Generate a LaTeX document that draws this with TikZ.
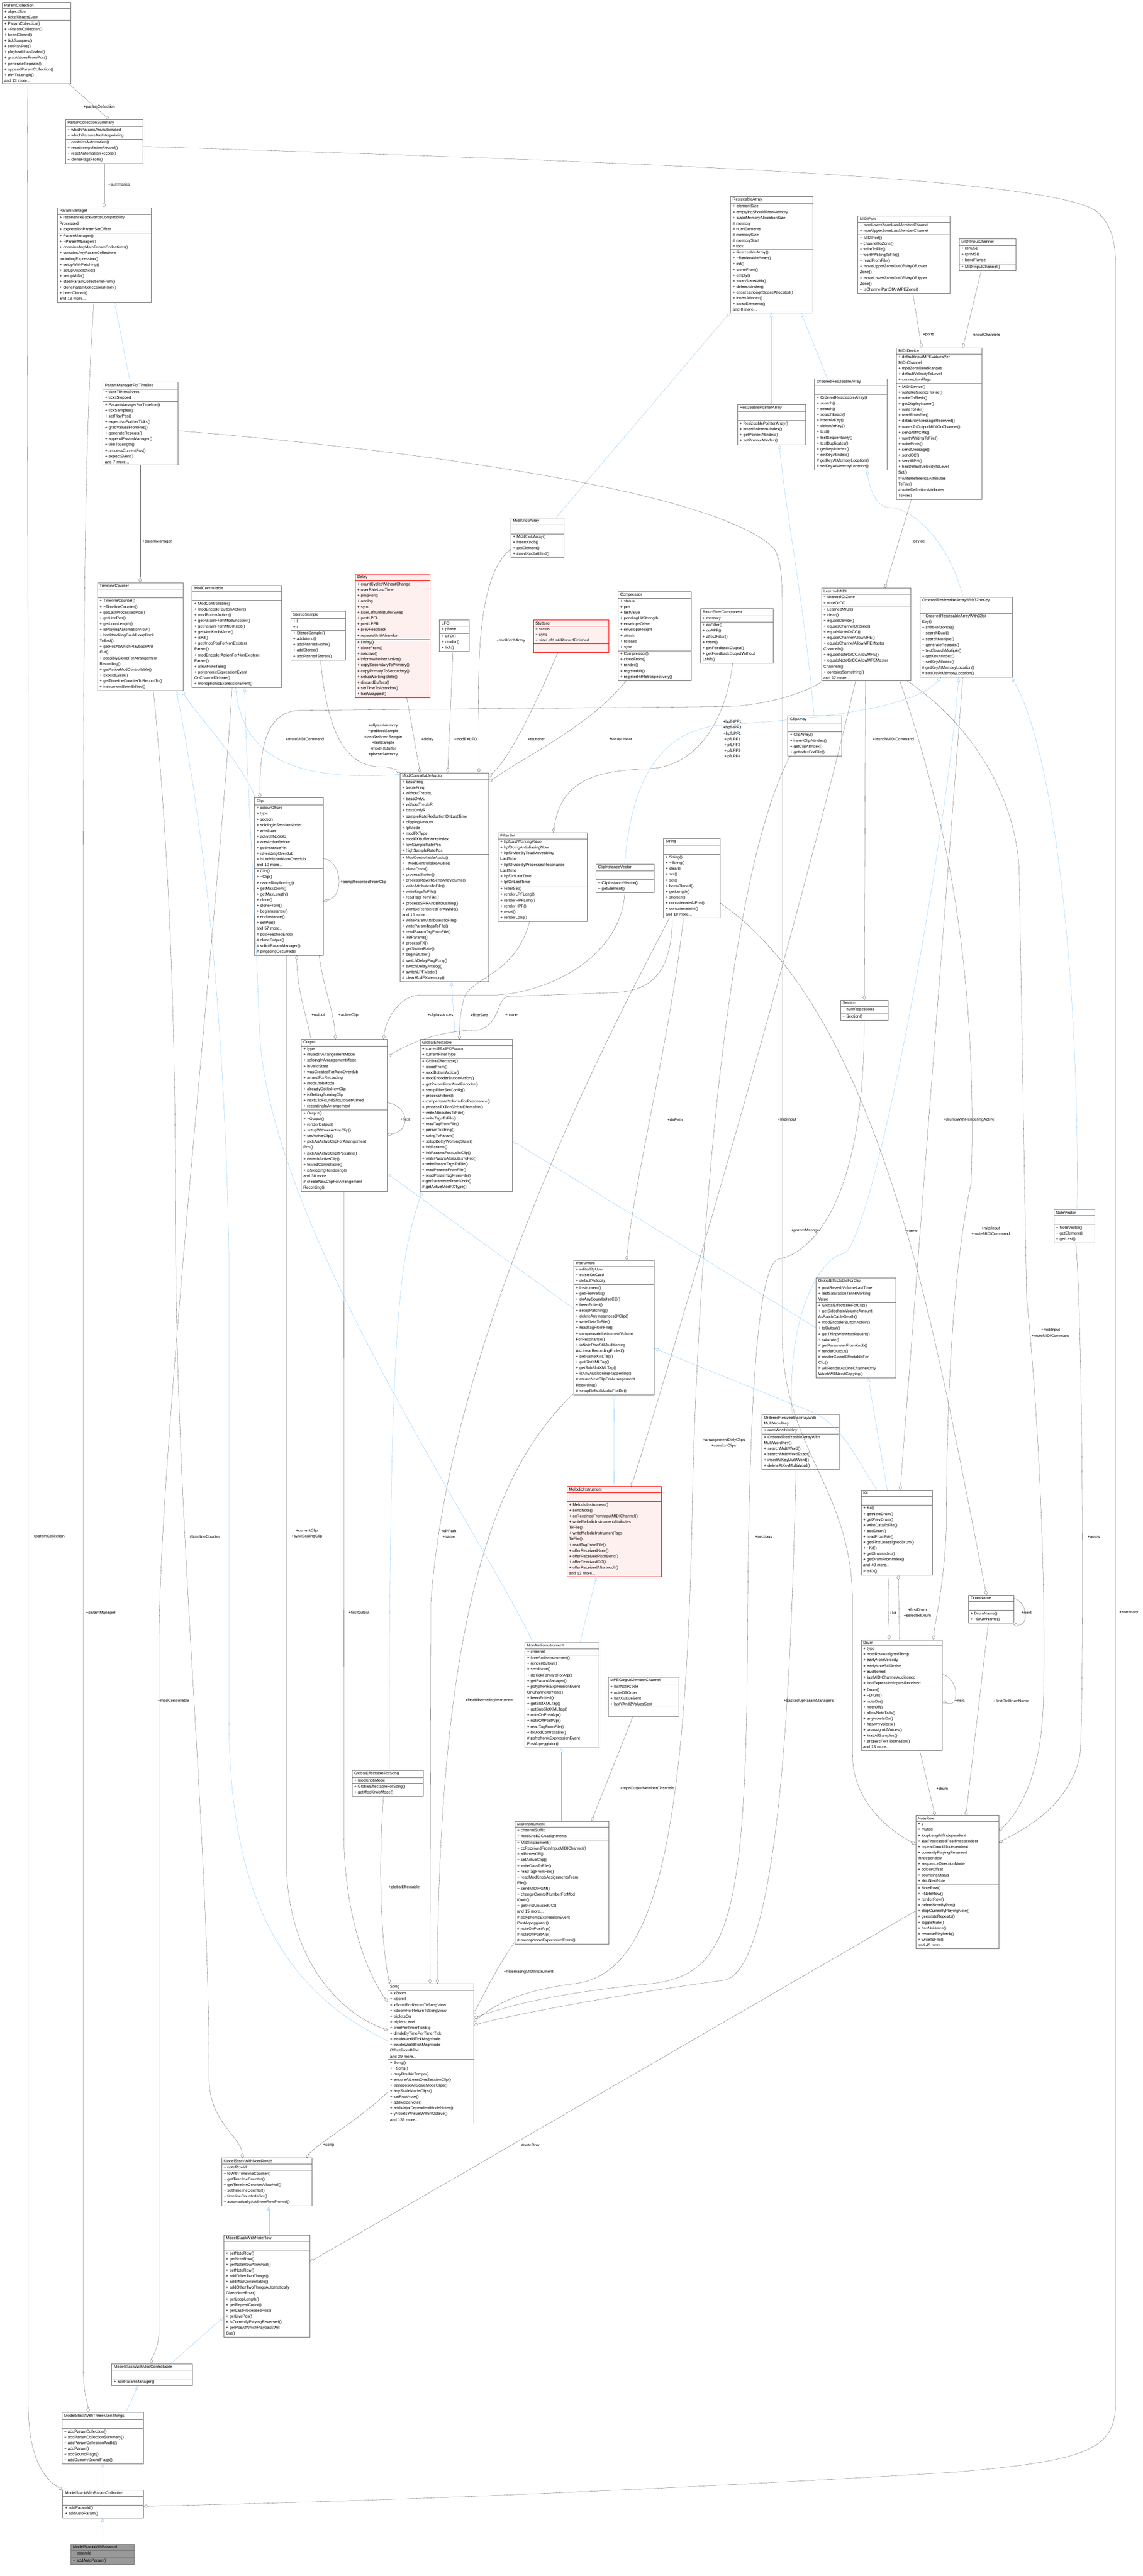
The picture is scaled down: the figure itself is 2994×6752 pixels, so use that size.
\documentclass[tikz,border=0pt]{standalone}
\usepackage{fontspec}
\setmainfont{Liberation Sans}
\usetikzlibrary{shapes.multipart, arrows.meta}
\definecolor{inhblue}{RGB}{99,184,255}
\definecolor{hotfill}{RGB}{255,240,240}
\definecolor{hotdraw}{RGB}{255,0,0}
\definecolor{curfill}{RGB}{153,153,153}
\definecolor{edgegray}{RGB}{64,64,64}
\tikzset{
  classbox/.style={rectangle split, rectangle split parts=3, draw=black!55, fill=white,
    anchor=north west, text width=#1, inner xsep=6pt, inner ysep=4pt,
    rectangle split part align={center,left,left},
    font=\fontsize{10.5}{15}\selectfont},
  hotbox/.style={draw=hotdraw, fill=hotfill},
  curbox/.style={draw=black!55, fill=curfill},
  comp/.style={draw=edgegray, -{Diamond[open,length=13pt,width=8pt]}},
  inh/.style={draw=inhblue, -{Triangle[open,length=11pt,width=8pt]}},
  lbl/.style={font=\fontsize{10.5}{15}\selectfont, align=center, inner sep=1pt}
}
\begin{document}
\begin{tikzpicture}[x=1pt, y=-1pt]
\useasboundingbox (0,0) rectangle (2994,6752);

% parameter classes
\node[classbox=168pt] (ParamCollection) at (5,6) {ParamCollection
  \nodepart{two}+ objectSize\\+ ticksTilNextEvent
  \nodepart{three}+ ParamCollection()\\+ \textasciitilde ParamCollection()\\+ beenCloned()\\+ tickSamples()\\+ setPlayPos()\\+ playbackHasEnded()\\+ grabValuesFromPos()\\+ generateRepeats()\\+ appendParamCollection()\\+ trimToLength()\\and 13 more...};
\node[classbox=191pt] (Summary) at (171,313) {ParamCollectionSummary
  \nodepart{two}+ whichParamsAreAutomated\\+ whichParamsAreInterpolating
  \nodepart{three}+ containsAutomation()\\+ resetInterpolationRecord()\\+ resetAutomationRecord()\\+ cloneFlagsFrom()};
\node[classbox=233pt] (ParamManager) at (150,544) {ParamManager
  \nodepart{two}+ resonanceBackwardsCompatibility\\Processed\\+ expressionParamSetOffset
  \nodepart{three}+ ParamManager()\\+ \textasciitilde ParamManager()\\+ containsAnyMainParamCollections()\\+ containsAnyParamCollections\\IncludingExpression()\\+ setupWithPatching()\\+ setupUnpatched()\\+ setupMIDI()\\+ stealParamCollectionsFrom()\\+ cloneParamCollectionsFrom()\\+ beenCloned()\\and 19 more...};
\node[classbox=185pt] (PMFT) at (269,1001) {ParamManagerForTimeline
  \nodepart{two}+ ticksTilNextEvent\\+ ticksSkipped
  \nodepart{three}+ ParamManagerForTimeline()\\+ tickSamples()\\+ setPlayPos()\\+ expectNoFurtherTicks()\\+ grabValuesFromPos()\\+ generateRepeats()\\+ appendParamManager()\\+ trimToLength()\\+ processCurrentPos()\\+ expectEvent()\\and 7 more...};

% arrays and MIDI
\node[classbox=203pt] (RA) at (1914,514) {ResizeableArray
  \nodepart{two}+ elementSize\\+ emptyingShouldFreeMemory\\+ staticMemoryAllocationSize\\\# memory\\\# numElements\\\# memorySize\\\# memoryStart\\\# lock
  \nodepart{three}+ ResizeableArray()\\+ \textasciitilde ResizeableArray()\\+ init()\\+ cloneFrom()\\+ empty()\\+ swapStateWith()\\+ deleteAtIndex()\\+ ensureEnoughSpaceAllocated()\\+ insertAtIndex()\\+ swapElements()\\and 8 more...};
\node[classbox=166pt] (RPA) at (1932,1060) {ResizeablePointerArray
  \nodepart{two}\strut
  \nodepart{three}+ ResizeablePointerArray()\\+ insertPointerAtIndex()\\+ getPointerAtIndex()\\+ setPointerAtIndex()};
\node[classbox=178pt] (ORA) at (2134,992) {OrderedResizeableArray
  \nodepart{two}\strut
  \nodepart{three}+ OrderedResizeableArray()\\+ search()\\+ search()\\+ searchExact()\\+ insertAtKey()\\+ deleteAtKey()\\+ test()\\+ testSequentiality()\\+ testDuplicates()\\+ getKeyAtIndex()\\+ setKeyAtIndex()\\\# getKeyAtMemoryLocation()\\\# setKeyAtMemoryLocation()};
\node[classbox=230pt] (MIDIPort) at (2247,566) {MIDIPort
  \nodepart{two}+ mpeLowerZoneLastMemberChannel\\+ mpeUpperZoneLastMemberChannel
  \nodepart{three}+ MIDIPort()\\+ channelToZone()\\+ writeToFile()\\+ worthWritingToFile()\\+ readFromFile()\\+ moveUpperZoneOutOfWayOfLower\\Zone()\\+ moveLowerZoneOutOfWayOfUpper\\Zone()\\+ isChannelPartOfAnMPEZone()};
\node[classbox=137pt] (MIC) at (2513,625) {MIDIInputChannel
  \nodepart{two}+ rpnLSB\\+ rpnMSB\\+ bendRange
  \nodepart{three}+ MIDIInputChannel()};
\node[classbox=212pt] (MIDIDevice) at (2348,911) {MIDIDevice
  \nodepart{two}+ defaultInputMPEValuesPer\\MIDIChannel\\+ mpeZoneBendRanges\\+ defaultVelocityToLevel\\+ connectionFlags
  \nodepart{three}+ MIDIDevice()\\+ writeReferenceToFile()\\+ writeToFlash()\\+ getDisplayName()\\+ writeToFile()\\+ readFromFile()\\+ dataEntryMessageReceived()\\+ wantsToOutputMIDIOnChannel()\\+ sendAllMCMs()\\+ worthWritingToFile()\\+ writePorts()\\+ sendMessage()\\+ sendCC()\\+ sendRPN()\\+ hasDefaultVelocityToLevel\\Set()\\\# writeReferenceAttributes\\ToFile()\\\# writeDefinitionAttributes\\ToFile()};
\node[classbox=127pt] (MidiKnobArray) at (1338,1357) {MidiKnobArray
  \nodepart{two}\strut
  \nodepart{three}+ MidiKnobArray()\\+ insertKnob()\\+ getElement()\\+ insertKnobAtEnd()};

% controllables and effects
\node[classbox=212pt] (TimelineCounter) at (255,1527) {TimelineCounter
  \nodepart{two}\strut
  \nodepart{three}+ TimelineCounter()\\+ \textasciitilde TimelineCounter()\\+ getLastProcessedPos()\\+ getLivePos()\\+ getLoopLength()\\+ isPlayingAutomationNow()\\+ backtrackingCouldLoopBack\\ToEnd()\\+ getPosAtWhichPlaybackWill\\Cut()\\+ possiblyCloneForArrangement\\Recording()\\+ getActiveModControllable()\\+ expectEvent()\\+ getTimelineCounterToRecordTo()\\+ instrumentBeenEdited()};
\node[classbox=222pt] (ModControllable) at (503,1534) {ModControllable
  \nodepart{two}\strut
  \nodepart{three}+ ModControllable()\\+ modEncoderButtonAction()\\+ modButtonAction()\\+ getParamFromModEncoder()\\+ getParamFromMIDIKnob()\\+ getModKnobMode()\\+ isKit()\\+ getKnobPosForNonExistent\\Param()\\+ modEncoderActionForNonExistent\\Param()\\+ allowNoteTails()\\+ polyphonicExpressionEvent\\OnChannelOrNote()\\+ monophonicExpressionEvent()};
\node[classbox=131pt] (StereoSample) at (762,1602) {StereoSample
  \nodepart{two}+ l\\+ r
  \nodepart{three}+ StereoSample()\\+ addMono()\\+ addPannedMono()\\+ addStereo()\\+ addPannedStereo()};
\node[classbox=184pt, hotbox] (Delay) at (930,1504) {Delay
  \nodepart{two}+ countCyclesWithoutChange\\+ userRateLastTime\\+ pingPong\\+ analog\\+ sync\\+ sizeLeftUntilBufferSwap\\+ postLPFL\\+ postLPFR\\+ prevFeedback\\+ repeatsUntilAbandon
  \nodepart{three}+ Delay()\\+ cloneFrom()\\+ isActive()\\+ informWhetherActive()\\+ copySecondaryToPrimary()\\+ copyPrimaryToSecondary()\\+ setupWorkingState()\\+ discardBuffers()\\+ setTimeToAbandon()\\+ hasWrapped()};
\node[classbox=66pt] (LFO) at (1151,1625) {LFO
  \nodepart{two}+ phase
  \nodepart{three}+ LFO()\\+ render()\\+ tick()};
\node[classbox=186pt, hotbox] (Stutterer) at (1397,1625) {Stutterer
  \nodepart{two}+ status\\+ sync\\+ sizeLeftUntilRecordFinished
  \nodepart{three}\strut};
\node[classbox=180pt] (Compressor) at (1619,1550) {Compressor
  \nodepart{two}+ status\\+ pos\\+ lastValue\\+ pendingHitStrength\\+ envelopeOffset\\+ envelopeHeight\\+ attack\\+ release\\+ sync
  \nodepart{three}+ Compressor()\\+ cloneFrom()\\+ render()\\+ registerHit()\\+ registerHitRetrospectively()};
\node[classbox=179pt] (BFC) at (1835,1595) {BasicFilterComponent
  \nodepart{two}+ memory
  \nodepart{three}+ doFilter()\\+ doAPF()\\+ affectFilter()\\+ reset()\\+ getFeedbackOutput()\\+ getFeedbackOutputWithout\\Lshift()};
\node[classbox=222pt] (LearnedMIDI) at (2152,1541) {LearnedMIDI
  \nodepart{two}+ channelOrZone\\+ noteOrCC
  \nodepart{three}+ LearnedMIDI()\\+ clear()\\+ equalsDevice()\\+ equalsChannelOrZone()\\+ equalsNoteOrCC()\\+ equalsChannelAllowMPE()\\+ equalsChannelAllowMPEMaster\\Channels()\\+ equalsNoteOrCCAllowMPE()\\+ equalsNoteOrCCAllowMPEMaster\\Channels()\\+ containsSomething()\\and 12 more...};
\node[classbox=230pt] (OR32) at (2410,1565) {OrderedResizeableArrayWith32bitKey
  \nodepart{two}\strut
  \nodepart{three}+ OrderedResizeableArrayWith32bit\\Key()\\+ shiftHorizontal()\\+ searchDual()\\+ searchMultiple()\\+ generateRepeats()\\+ testSearchMultiple()\\+ getKeyAtIndex()\\+ setKeyAtIndex()\\\# getKeyAtMemoryLocation()\\\# setKeyAtMemoryLocation()};
\node[classbox=220pt] (MCA) at (1048,2025) {ModControllableAudio
  \nodepart{two}+ bassFreq\\+ trebleFreq\\+ withoutTrebleL\\+ bassOnlyL\\+ withoutTrebleR\\+ bassOnlyR\\+ sampleRateReductionOnLastTime\\+ clippingAmount\\+ lpfMode\\+ modFXType\\+ modFXBufferWriteIndex\\+ lowSampleRatePos\\+ highSampleRatePos
  \nodepart{three}+ ModControllableAudio()\\+ \textasciitilde ModControllableAudio()\\+ cloneFrom()\\+ processStutter()\\+ processReverbSendAndVolume()\\+ writeAttributesToFile()\\+ writeTagsToFile()\\+ readTagFromFile()\\+ processSRRAndBitcrushing()\\+ wontBeRenderedForAWhile()\\and 16 more...\\+ writeParamAttributesToFile()\\+ writeParamTagsToFile()\\+ readParamTagFromFile()\\+ initParams()\\\# processFX()\\\# getStutterRate()\\\# beginStutter()\\\# switchDelayPingPong()\\\# switchDelayAnalog()\\\# switchLPFMode()\\\# clearModFXMemory()};
\node[classbox=169pt] (Clip) at (666,2091) {Clip
  \nodepart{two}+ colourOffset\\+ type\\+ section\\+ soloingInSessionMode\\+ armState\\+ activeIfNoSolo\\+ wasActiveBefore\\+ gotInstanceYet\\+ isPendingOverdub\\+ isUnfinishedAutoOverdub\\and 10 more...
  \nodepart{three}+ Clip()\\+ \textasciitilde Clip()\\+ cancelAnyArming()\\+ getMaxZoom()\\+ getMaxLength()\\+ clone()\\+ cloneFrom()\\+ beginInstance()\\+ endInstance()\\+ setPos()\\and 57 more...\\\# posReachedEnd()\\\# cloneOutput()\\\# solicitParamManager()\\\# pingpongOccurred()};
\node[classbox=221pt] (FilterSet) at (1305,2182) {FilterSet
  \nodepart{two}+ hpfLastWorkingValue\\+ hpfDoingAntialiasingNow\\+ hpfDivideByTotalMoveability\\LastTime\\+ hpfDivideByProcessedResonance\\LastTime\\+ hpfOnLastTime\\+ lpfOnLastTime
  \nodepart{three}+ FilterSet()\\+ renderLPFLong()\\+ renderHPFLong()\\+ renderHPF()\\+ reset()\\+ renderLong()};
\node[classbox=129pt] (ClipArray) at (2064,1876) {ClipArray
  \nodepart{two}\strut
  \nodepart{three}+ ClipArray()\\+ insertClipAtIndex()\\+ getClipAtIndex()\\+ getIndexForClip()};
\node[classbox=141pt] (CIV) at (1561,2264) {ClipInstanceVector
  \nodepart{two}\strut
  \nodepart{three}+ ClipInstanceVector()\\+ getElement()};
\node[classbox=137pt] (String) at (1738,2197) {String
  \nodepart{two}\strut
  \nodepart{three}+ String()\\+ \textasciitilde String()\\+ clear()\\+ set()\\+ set()\\+ beenCloned()\\+ getLength()\\+ shorten()\\+ concatenateAtPos()\\+ concatenateInt()\\and 10 more...};
\node[classbox=113pt] (Section) at (2202,2621) {Section
  \nodepart{two}+ numRepetitions
  \nodepart{three}+ Section()};

% outputs and instruments
\node[classbox=213pt] (Output) at (789,2724) {Output
  \nodepart{two}+ type\\+ mutedInArrangementMode\\+ soloingInArrangementMode\\+ inValidState\\+ wasCreatedForAutoOverdub\\+ armedForRecording\\+ modKnobMode\\+ alreadyGotItsNewClip\\+ isGettingSoloingClip\\+ nextClipFoundShouldGetArmed\\+ recordingInArrangement
  \nodepart{three}+ Output()\\+ \textasciitilde Output()\\+ renderOutput()\\+ setupWithoutActiveClip()\\+ setActiveClip()\\+ pickAnActiveClipForArrangement\\Pos()\\+ pickAnActiveClipIfPossible()\\+ detachActiveClip()\\+ toModControllable()\\+ isSkippingRendering()\\and 30 more...\\\# createNewClipForArrangement\\Recording()};
\node[classbox=230pt] (GlobalEffectable) at (1100,2724) {GlobalEffectable
  \nodepart{two}+ currentModFXParam\\+ currentFilterType
  \nodepart{three}+ GlobalEffectable()\\+ cloneFrom()\\+ modButtonAction()\\+ modEncoderButtonAction()\\+ getParamFromModEncoder()\\+ setupFilterSetConfig()\\+ processFilters()\\+ compensateVolumeForResonance()\\+ processFXForGlobalEffectable()\\+ writeAttributesToFile()\\+ writeTagsToFile()\\+ readTagFromFile()\\+ paramToString()\\+ stringToParam()\\+ setupDelayWorkingState()\\+ initParams()\\+ initParamsForAudioClip()\\+ writeParamAttributesToFile()\\+ writeParamTagsToFile()\\+ readParamsFromFile()\\+ readParamTagFromFile()\\\# getParameterFromKnob()\\\# getActiveModFXType()};
\node[classbox=95pt] (NoteVector) at (2761,3170) {NoteVector
  \nodepart{two}\strut
  \nodepart{three}+ NoteVector()\\+ getElement()\\+ getLast()};
\node[classbox=199pt] (Instrument) at (1503,3303) {Instrument
  \nodepart{two}+ editedByUser\\+ existsOnCard\\+ defaultVelocity
  \nodepart{three}+ Instrument()\\+ getFilePrefix()\\+ doAnySoundsUseCC()\\+ beenEdited()\\+ setupPatching()\\+ deleteAnyInstancesOfClip()\\+ writeDataToFile()\\+ readTagFromFile()\\+ compensateInstrumentVolume\\ForResonance()\\+ isNoteRowStillAuditioning\\AsLinearRecordingEnded()\\+ getNameXMLTag()\\+ getSlotXMLTag()\\+ getSubSlotXMLTag()\\+ isAnyAuditioningHappening()\\\# createNewClipForArrangement\\Recording()\\\# setupDefaultAudioFileDir()};
\node[classbox=197pt] (GEFC) at (2138,3349) {GlobalEffectableForClip
  \nodepart{two}+ postReverbVolumeLastTime\\+ lastSaturationTanHWorking\\Value
  \nodepart{three}+ GlobalEffectableForClip()\\+ getSidechainVolumeAmount\\AsPatchCableDepth()\\+ modEncoderButtonAction()\\+ toOutput()\\+ getThingWithMostReverb()\\+ saturate()\\\# getParameterFromKnob()\\\# renderOutput()\\\# renderGlobalEffectableFor\\Clip()\\\# willRenderAsOneChannelOnly\\WhichWillNeedCopying()};
\node[classbox=191pt] (ORAWMWK) at (1996,3707) {OrderedResizeableArrayWith\\MultiWordKey
  \nodepart{two}+ numWordsInKey
  \nodepart{three}+ OrderedResizeableArrayWith\\MultiWordKey()\\+ searchMultiWord()\\+ searchMultiWordExact()\\+ insertAtKeyMultiWord()\\+ deleteAtKeyMultiWord()};
\node[classbox=175pt] (Kit) at (2256,3905) {Kit
  \nodepart{two}\strut
  \nodepart{three}+ Kit()\\+ getNextDrum()\\+ getPrevDrum()\\+ writeDataToFile()\\+ addDrum()\\+ readFromFile()\\+ getFirstUnassignedDrum()\\+ \textasciitilde Kit()\\+ getDrumIndex()\\+ getDrumFromIndex()\\and 40 more...\\\# isKit()};
\node[classbox=236pt, hotbox] (MelodicInstrument) at (1485,3896) {MelodicInstrument
  \nodepart{two}\strut
  \nodepart{three}+ MelodicInstrument()\\+ sendNote()\\+ ccReceivedFromInputMIDIChannel()\\+ writeMelodicInstrumentAttributes\\ToFile()\\+ writeMelodicInstrumentTags\\ToFile()\\+ readTagFromFile()\\+ offerReceivedNote()\\+ offerReceivedPitchBend()\\+ offerReceivedCC()\\+ offerReceivedAftertouch()\\and 13 more...};
\node[classbox=182pt] (NonAudioInstrument) at (1375,4305) {NonAudioInstrument
  \nodepart{two}+ channel
  \nodepart{three}+ NonAudioInstrument()\\+ renderOutput()\\+ sendNote()\\+ doTickForwardForArp()\\+ getParamManager()\\+ polyphonicExpressionEvent\\OnChannelOrNote()\\+ beenEdited()\\+ getSlotXMLTag()\\+ getSubSlotXMLTag()\\+ noteOnPostArp()\\+ noteOffPostArp()\\+ readTagFromFile()\\+ toModControllable()\\\# polyphonicExpressionEvent\\PostArpeggiator()};
\node[classbox=173pt] (MPEOMC) at (1593,4395) {MPEOutputMemberChannel
  \nodepart{two}+ lastNoteCode\\+ noteOffOrder\\+ lastXValueSent\\+ lastYAndZValuesSent
  \nodepart{three}\strut};
\node[classbox=200pt] (Drum) at (2256,4298) {Drum
  \nodepart{two}+ type\\+ noteRowAssignedTemp\\+ earlyNoteVelocity\\+ earlyNoteStillActive\\+ auditioned\\+ lastMIDIChannelAuditioned\\+ lastExpressionInputsReceived
  \nodepart{three}+ Drum()\\+ \textasciitilde Drum()\\+ noteOn()\\+ noteOff()\\+ allowNoteTails()\\+ anyNoteIsOn()\\+ hasAnyVoices()\\+ unassignAllVoices()\\+ loadAllSamples()\\+ prepareForHibernation()\\and 13 more...};
\node[classbox=107pt] (DrumName) at (2537,4181) {DrumName
  \nodepart{two}\strut
  \nodepart{three}+ DrumName()\\+ \textasciitilde DrumName()};
\node[classbox=206pt] (NoteRow) at (2399,4758) {NoteRow
  \nodepart{two}+ y\\+ muted\\+ loopLengthIfIndependent\\+ lastProcessedPosIfIndependent\\+ repeatCountIfIndependent\\+ currentlyPlayingReversed\\IfIndependent\\+ sequenceDirectionMode\\+ colourOffset\\+ soundingStatus\\+ skipNextNote
  \nodepart{three}+ NoteRow()\\+ \textasciitilde NoteRow()\\+ renderRow()\\+ deleteNoteByPos()\\+ stopCurrentlyPlayingNote()\\+ generateRepeats()\\+ toggleMute()\\+ hasNoNotes()\\+ resumePlayback()\\+ writeToFile()\\and 45 more...};
\node[classbox=234pt] (MIDIInstrument) at (1349,4773) {MIDIInstrument
  \nodepart{two}+ channelSuffix\\+ modKnobCCAssignments
  \nodepart{three}+ MIDIInstrument()\\+ ccReceivedFromInputMIDIChannel()\\+ allNotesOff()\\+ setActiveClip()\\+ writeDataToFile()\\+ readTagFromFile()\\+ readModKnobAssignmentsFrom\\File()\\+ sendMIDIPGM()\\+ changeControlNumberForMod\\Knob()\\+ getFirstUnusedCC()\\and 15 more...\\\# polyphonicExpressionEvent\\PostArpeggiator()\\\# noteOnPostArp()\\\# noteOffPostArp()\\\# monophonicExpressionEvent()};
\node[classbox=174pt] (GEFS) at (922,4640) {GlobalEffectableForSong
  \nodepart{two}+ modKnobMode
  \nodepart{three}+ GlobalEffectableForSong()\\+ getModKnobMode()};
\node[classbox=213pt] (Song) at (1016,5199) {Song
  \nodepart{two}+ xZoom\\+ xScroll\\+ xScrollForReturnToSongView\\+ xZoomForReturnToSongView\\+ tripletsOn\\+ tripletsLevel\\+ timePerTimerTickBig\\+ divideByTimePerTimerTick\\+ insideWorldTickMagnitude\\+ insideWorldTickMagnitude\\OffsetFromBPM\\and 29 more...
  \nodepart{three}+ Song()\\+ \textasciitilde Song()\\+ mayDoubleTempo()\\+ ensureAtLeastOneSessionClip()\\+ transposeAllScaleModeClips()\\+ anyScaleModeClips()\\+ setRootNote()\\+ addModeNote()\\+ addMajorDependentModeNotes()\\+ yNoteIsYVisualWithinOctave()\\and 139 more...};

% model stacks
\node[classbox=225pt] (MSWNoteRowId) at (580,5656) {ModelStackWithNoteRowId
  \nodepart{two}+ noteRowId
  \nodepart{three}+ toWithTimelineCounter()\\+ getTimelineCounter()\\+ getTimelineCounterAllowNull()\\+ setTimelineCounter()\\+ timelineCounterIsSet()\\+ automaticallyAddNoteRowFromId()};
\node[classbox=213pt] (MSWNoteRow) at (586,5858) {ModelStackWithNoteRow
  \nodepart{two}\strut
  \nodepart{three}+ setNoteRow()\\+ getNoteRow()\\+ getNoteRowAllowNull()\\+ setNoteRow()\\+ addOtherTwoThings()\\+ addModControllable()\\+ addOtherTwoThingsAutomatically\\GivenNoteRow()\\+ getLoopLength()\\+ getRepeatCount()\\+ getLastProcessedPos()\\+ getLivePos()\\+ isCurrentlyPlayingReversed()\\+ getPosAtWhichPlaybackWill\\Cut()};
\node[classbox=200pt] (MSWModControllable) at (292,6195) {ModelStackWithModControllable
  \nodepart{two}\strut
  \nodepart{three}+ addParamManager()};
\node[classbox=202pt] (MSWThreeMainThings) at (162,6323) {ModelStackWithThreeMainThings
  \nodepart{two}\strut
  \nodepart{three}+ addParamCollection()\\+ addParamCollectionSummary()\\+ addParamCollectionAndId()\\+ addParam()\\+ addSoundFlags()\\+ addDummySoundFlags()};
\node[classbox=200pt] (MSWParamCollection) at (164,6526) {ModelStackWithParamCollection
  \nodepart{two}\strut
  \nodepart{three}+ addParamId()\\+ addAutoParam()};
\node[classbox=154pt, curbox] (MSWParamId) at (185,6668) {ModelStackWithParamId
  \nodepart{two}+ paramId
  \nodepart{three}+ addAutoParam()};

% inheritance
\draw[inh] ([xshift=72pt]PMFT.north west) -- ([xshift=150pt]ParamManager.south west);
\draw[inh] ([xshift=4pt]Clip.north west) .. controls (620,1980) and (520,1880) .. ([xshift=221pt]TimelineCounter.south west);
\draw[inh] ([yshift=-150pt]Song.north west) .. controls (700,5200) and (600,4900) .. (600,4500) -- (600,3300) .. controls (590,2700) and (540,2200) .. ([xshift=207pt]TimelineCounter.south west);
\draw[inh] ([yshift=-5pt]MCA.north west) .. controls (760,2050) and (640,1980) .. ([xshift=114pt]ModControllable.south west);
\draw[inh] ([xshift=22pt]NonAudioInstrument.north west) .. controls (1250,4000) and (700,3200) .. (680,2700) .. controls (665,2300) and (645,2000) .. ([xshift=138pt]ModControllable.south west);
\draw[inh] ([xshift=98pt]GEFS.north west) .. controls (1020,3400) and (1050,3300) .. ([xshift=6pt]GlobalEffectable.south west);
\draw[inh] ([xshift=93pt]GlobalEffectable.north west) -- ([xshift=135pt]MCA.south west);
\draw[inh] ([yshift=-131pt]GEFC.north west) -- ([yshift=-266pt]GlobalEffectable.north east);
\draw[inh] ([yshift=-127pt]Instrument.north west) -- ([yshift=-352pt]Output.north east);
\draw[inh] (MelodicInstrument.north) -- (Instrument.south);
\draw[inh] ([xshift=41pt]Kit.north west) .. controls (2230,3800) and (2200,3720) .. (2100,3690) -- ([yshift=-231pt]Instrument.north east);
\draw[inh] ([xshift=69pt]Kit.north west) -- ([xshift=137pt]GEFC.south west);
\draw[inh] ([xshift=145pt]NonAudioInstrument.north west) -- ([xshift=78pt]MelodicInstrument.south west);
\draw[inh] ([xshift=122pt]MIDIInstrument.north west) -- ([xshift=96pt]NonAudioInstrument.south west);
\draw[inh] ([xshift=34pt]ORA.north west) -- ([xshift=185pt]RA.south west);
\draw[inh] ([xshift=89pt]RPA.north west) -- ([xshift=107pt]RA.south west);
\draw[inh] ([xshift=69pt]ClipArray.north west) .. controls (2110,1600) and (2060,1350) .. ([xshift=110pt]RPA.south west);
\draw[inh] ([xshift=119pt]MidiKnobArray.north west) -- ([yshift=-304pt]RA.north west);
\draw[inh] ([xshift=114pt]OR32.north west) .. controls (2480,1400) and (2380,1330) .. (2330,1330) .. controls (2300,1330) and (2280,1290) .. ([xshift=138pt]ORA.south west);
\draw[inh] ([xshift=80pt]ORAWMWK.north west) .. controls (2060,3450) and (2150,3290) .. (2215,3285) .. controls (2300,3200) and (2480,2200) .. ([xshift=102pt]OR32.south west);
\draw[inh] ([xshift=61pt]NoteVector.north west) .. controls (2830,2700) and (2780,2000) .. ([xshift=241pt]OR32.south west);
\draw[inh] ([xshift=76pt]CIV.north west) .. controls (1650,2100) and (1700,1910) .. (1900,1900) .. controls (2200,1880) and (2400,1850) .. ([xshift=56pt]OR32.south west);
\draw[inh] ([xshift=119pt]MSWNoteRow.north west) -- ([xshift=125pt]MSWNoteRowId.south west);
\draw[inh] ([xshift=156pt]MSWModControllable.north west) -- ([yshift=-215pt]MSWNoteRow.north west);
\draw[inh] ([xshift=168pt]MSWThreeMainThings.north west) -- ([xshift=70pt]MSWModControllable.south west);
\draw[inh] ([xshift=105pt]MSWParamCollection.north west) -- ([xshift=107pt]MSWThreeMainThings.south west);
\draw[inh] ([xshift=84pt]MSWParamId.north west) -- ([xshift=105pt]MSWParamCollection.south west);

% members
\draw[comp] ([xshift=175pt]ParamCollection.south west) -- ([xshift=115pt]Summary.north west);
\draw[comp] (Summary.south) -- (ParamManager.north);
\draw[comp] ([xshift=98pt]PMFT.south west) -- ([xshift=112pt]TimelineCounter.north west);
\draw[comp] ([xshift=68pt]ParamCollection.south west) .. controls (70,700) and (74,1500) .. (74,2500) -- (74,6300) .. controls (74,6450) and (120,6500) .. (MSWParamCollection.north west);
\draw[comp] ([xshift=96pt]ParamManager.south west) .. controls (225,1100) and (218,1500) .. (218,2500) -- (218,6200) .. controls (218,6280) and (231,6300) .. ([xshift=69pt]MSWThreeMainThings.north west);
\draw[comp] ([xshift=147pt]TimelineCounter.south west) .. controls (430,2100) and (460,2500) .. (460,3200) .. controls (460,4000) and (548,4800) .. (548,5450) .. controls (548,5560) and (630,5600) .. ([xshift=56pt]MSWNoteRowId.north west);
\draw[comp] ([xshift=105pt]ModControllable.south west) .. controls (580,2300) and (417,3800) .. (417,4300) -- (417,6100) .. controls (417,6160) and (397,6180) .. ([xshift=105pt]MSWModControllable.north west);
\draw[comp] ([xshift=85pt]Clip.south west) -- (751,4900) .. controls (760,5150) and (900,5280) .. ([yshift=-122pt]Song.north west);
\draw[comp] (Output.south) -- (901,4800) .. controls (901,5050) and (980,5200) .. ([yshift=-48pt]Song.north west);
\draw[comp] ([xshift=26pt]Output.north west) .. controls (800,2650) and (780,2600) .. ([xshift=111pt]Clip.south west);
\draw[comp] ([xshift=170pt]Clip.south west) .. controls (850,2600) and (875,2650) .. ([xshift=90pt]Output.north west);
\draw[comp] ([yshift=-159pt]Clip.north east) .. controls (900,2260) and (900,2350) .. ([yshift=-271pt]Clip.north east);
\draw[comp] ([yshift=-166pt]Output.north east) .. controls (1075,2900) and (1075,2965) .. ([yshift=-250pt]Output.north east);
\draw[comp] ([xshift=76pt]CIV.south west) .. controls (1630,2500) and (1450,2600) .. (1300,2608) -- (1100,2608) .. controls (1040,2612) and (1010,2680) .. ([xshift=216pt]Output.north west);
\draw[comp] ([xshift=83pt]FilterSet.south west) .. controls (1350,2560) and (1230,2560) .. (1215,2620) .. controls (1205,2660) and (1204,2690) .. ([xshift=104pt]GlobalEffectable.north west);
\draw[comp] ([xshift=24pt]String.south west) .. controls (1760,2560) and (1700,2600) .. (1600,2602) -- (1330,2612) .. controls (1300,2620) and (1310,2690) .. (1250,2700) .. controls (1150,2700) and (1060,2740) .. ([yshift=-47pt]Output.north east);
\draw[comp] ([xshift=53pt]String.south west) .. controls (1760,2700) and (1660,3100) .. ([xshift=139pt]Instrument.north west);
\draw[comp] ([xshift=17pt]String.south west) .. controls (1600,2700) and (1180,3500) .. (1129,4200) -- ([xshift=111pt]Song.north west);
\draw[comp] ([yshift=-350pt]Instrument.north west) .. controls (1350,3800) and (1150,4100) .. ([xshift=130pt]Song.north west);
\draw[comp] ([yshift=-170pt]String.north east) .. controls (2300,2650) and (2450,3500) .. (2540,3950) -- ([xshift=48pt]DrumName.north west);
\draw[comp] ([xshift=83pt]GEFS.south west) .. controls (990,4900) and (1000,5100) .. ([xshift=5pt]Song.north west);
\draw[comp] ([xshift=66pt]MPEOMC.south west) -- ([xshift=201pt]MIDIInstrument.north west);
\draw[comp] ([yshift=-317pt]MIDIInstrument.north west) .. controls (1320,5130) and (1280,5200) .. ([yshift=-80pt]Song.north east);
\draw[comp] (Section.south) .. controls (2265,3200) and (2100,3290) .. (2040,3300) .. controls (1970,3320) and (1960,3900) .. (1958,4400) .. controls (1950,5050) and (1900,5180) .. (1700,5200) .. controls (1400,5230) and (1300,5270) .. ([yshift=-90pt]Song.north east);
\draw[comp] ([xshift=7pt]ClipArray.south west) .. controls (1900,2300) and (1830,3300) .. (1815,3900) .. controls (1800,4900) and (1700,5180) .. (1500,5200) .. controls (1350,5220) and (1290,5260) .. ([yshift=-100pt]Song.north east);
\draw[comp] ([xshift=90pt]ORAWMWK.south west) .. controls (2076,4200) and (2060,5150) .. (1900,5190) .. controls (1600,5230) and (1300,5290) .. ([yshift=-110pt]Song.north east);
\draw[comp] ([xshift=116pt]LearnedMIDI.south west) -- (Section.north);
\draw[comp] ([xshift=90pt]LearnedMIDI.south west) .. controls (2100,2400) and (1750,3600) .. ([xshift=169pt]MelodicInstrument.north west);
\draw[comp] ([yshift=-247pt]LearnedMIDI.north west) .. controls (2100,1820) and (2000,1850) .. (1900,1852) -- (780,1862) .. controls (700,1870) and (681,1950) .. ([xshift=15pt]Clip.north west);
\draw[comp] ([xshift=206pt]LearnedMIDI.south west) .. controls (2500,2200) and (2560,2600) .. (2545,3100) .. controls (2480,3400) and (2480,3900) .. (2480,4000) .. controls (2475,4150) and (2450,4250) .. ([xshift=190pt]Drum.north west);
\draw[comp] ([xshift=225pt]LearnedMIDI.south west) .. controls (2550,1900) and (2670,2100) .. (2671,2300) -- (2690,3400) .. controls (2740,3900) and (2740,4400) .. (2732,4500) .. controls (2720,4700) and (2640,4780) .. ([yshift=-40pt]NoteRow.north east);
\draw[comp] ([xshift=58pt]NoteVector.south west) .. controls (2840,3500) and (2840,4500) .. (2830,4600) .. controls (2800,4750) and (2650,4810) .. ([yshift=-72pt]NoteRow.north east);
\draw[comp] ([xshift=113pt]OR32.south west) -- ([xshift=103pt]Kit.north west);
\draw[comp] ([xshift=74pt]Kit.south west) .. controls (2325,4200) and (2330,4250) .. ([xshift=74pt]Drum.north west);
\draw[comp] ([xshift=101pt]Drum.north west) -- ([xshift=98pt]Kit.south west);
\draw[comp] ([yshift=-90pt]Drum.north east) .. controls (2515,4400) and (2515,4480) .. ([yshift=-160pt]Drum.north east);
\draw[comp] ([yshift=-8pt]DrumName.north east) .. controls (2695,4200) and (2695,4262) .. ([yshift=-77pt]DrumName.north east);
\draw[comp] ([xshift=154pt]Drum.south west) -- ([xshift=51pt]NoteRow.north west);
\draw[comp] ([xshift=53pt]DrumName.south west) -- ([xshift=132pt]NoteRow.north west);
\draw[comp] ([yshift=-251pt]NoteRow.north west) -- ([yshift=-71pt]MSWNoteRow.north east);
\draw[comp] ([yshift=-128pt]PMFT.north east) .. controls (1200,1190) and (1900,1300) .. (2030,1440) .. controls (2045,1470) and (2050,1500) .. (2050,1600) -- (2050,3500) .. controls (2050,3800) and (2234,3900) .. (2234,4200) -- (2234,4600) .. controls (2234,4700) and (2300,4780) .. ([yshift=-76pt]NoteRow.north west);
\draw[comp] ([yshift=-71pt]Summary.north east) .. controls (1500,420) and (2800,460) .. (2880,560) .. controls (2920,600) and (2923,650) .. (2923,700) -- (2923,6300) .. controls (2923,6420) and (2850,6450) .. (2500,6480) .. controls (1500,6540) and (800,6560) .. ([yshift=-43pt]MSWParamCollection.north east);
\draw[comp] ([yshift=-284pt]Song.north west) .. controls (950,5550) and (830,5620) .. ([xshift=222pt]MSWNoteRowId.north west);
\draw[comp] ([xshift=145pt]MIDIPort.south west) -- ([xshift=67pt]MIDIDevice.north west);
\draw[comp] ([xshift=58pt]MIC.south west) -- ([xshift=175pt]MIDIDevice.north west);
\draw[comp] ([xshift=40pt]MIDIDevice.south west) -- ([xshift=167pt]LearnedMIDI.north west);
\draw[comp] ([yshift=-83pt]MidiKnobArray.north west) .. controls (1260,1500) and (1250,1700) .. (1255,1900) -- ([xshift=207pt]MCA.north west);
\draw[comp] ([xshift=78pt]StereoSample.south west) .. controls (860,1950) and (920,2010) .. (1000,2010) .. controls (1030,2010) and (1040,2020) .. (MCA.north west);
\draw[comp] ([xshift=136pt]Delay.south west) -- ([xshift=53pt]MCA.north west);
\draw[comp] ([xshift=36pt]LFO.south west) -- ([xshift=125pt]MCA.north west);
\draw[comp] ([xshift=65pt]Stutterer.south west) .. controls (1380,1900) and (1330,1990) .. ([yshift=-11pt]MCA.north east);
\draw[comp] ([xshift=22pt]Compressor.south west) .. controls (1550,1900) and (1380,1980) .. ([yshift=-25pt]MCA.north east);
\draw[comp] ([xshift=85pt]BFC.south west) .. controls (1900,1900) and (1820,2010) .. (1700,2015) .. controls (1550,2020) and (1470,2050) .. ([xshift=145pt]FilterSet.north west);

% edge labels
\node[lbl] (lPc) at (260,280) {+paramCollection};
\node[lbl] (lSum) at (312,483) {+summaries};
\node[lbl] (lPmTc) at (412,1420) {+paramManager};
\node[lbl] (lPcMs) at (128,4028) {+paramCollection};
\node[lbl] (lPmMs) at (264,4228) {+paramManager};
\node[lbl] (lTc) at (537,4028) {\#timelineCounter};
\node[lbl] (lMc) at (455,4457) {+modControllable};
\node[lbl] (lCur) at (804,4020) {+currentClip\\+syncScalingClip};
\node[lbl] (lFo) at (941,4228) {+firstOutput};
\node[lbl] (lFhi) at (1283,4457) {+firstHibernatingInstrument};
\node[lbl] (lGe) at (1059,4947) {+globalEffectable};
\node[lbl] (lHmi) at (1385,5168) {+hibernatingMIDIInstrument};
\node[lbl] (lOut) at (834,2661) {+output};
\node[lbl] (lAc) at (913,2661) {+activeClip};
\node[lbl] (lCi) at (1154,2661) {+clipInstances};
\node[lbl] (lFs) at (1256,2661) {+filterSets};
\node[lbl] (lNameO) at (1340,2661) {+name};
\node[lbl] (lNextO) at (1062,2935) {+next};
\node[lbl] (lDpSong) at (1176,4020) {+dirPath\\+name};
\node[lbl] (lMka) at (1339,1679) {+midiKnobArray};
\node[lbl] (lMute) at (799,1938) {+muteMIDICommand};
\node[lbl] (lStereo) at (1004,1940) {+allpassMemory\\+grabbedSample\\+lastGrabbedSample\\+lastSample\\+modFXBuffer\\+phaserMemory};
\node[lbl] (lDelay) at (1120,1938) {+delay};
\node[lbl] (lLfo) at (1220,1938) {+modFXLFO};
\node[lbl] (lStut) at (1405,1938) {+stutterer};
\node[lbl] (lRec) at (952,2312) {+beingRecordedFromClip};
\node[lbl] (lComp) at (1627,1938) {+compressor};
\node[lbl] (lFilt) at (1919,1938) {+hpfHPF1\\+hpfHPF3\\+hpfLPF1\\+lpfLPF1\\+lpfLPF2\\+lpfLPF3\\+lpfLPF4};
\node[lbl] (lLaunch) at (2341,1938) {+launchMIDICommand};
\node[lbl] (lDp) at (1769,2935) {+dirPath};
\node[lbl] (lMidiIn) at (2062,2935) {+midiInput};
\node[lbl] (lDrums) at (2539,2935) {+drumsWithRenderingActive};
\node[lbl] (lPmNr) at (2112,3226) {+paramManager};
\node[lbl] (lNameD) at (2388,3226) {+name};
\node[lbl] (lMidiD) at (2596,3226) {+midiInput\\+muteMIDICommand};
\node[lbl] (lMidiN) at (2753,3493) {+midiInput\\+muteMIDICommand};
\node[lbl] (lClips) at (1897,3783) {+arrangementOnlyClips\\+sessionClips};
\node[lbl] (lSec) at (2001,4028) {+sections};
\node[lbl] (lBack) at (2119,4458) {+backedUpParamManagers};
\node[lbl] (lKit) at (2340,4227) {+kit};
\node[lbl] (lFd) at (2404,4227) {+firstDrum\\+selectedDrum};
\node[lbl] (lNextN) at (2690,4227) {+next};
\node[lbl] (lNextD) at (2515,4458) {+next};
\node[lbl] (lOld) at (2650,4458) {+firstOldDrumName};
\node[lbl] (lDrum) at (2469,4688) {+drum};
\node[lbl] (lMpe) at (1696,4688) {+mpeOutputMemberChannels};
\node[lbl] (lNotes) at (2866,4028) {+notes};
\node[lbl] (lSumMs) at (2958,4227) {+summary};
\node[lbl] (lSong) at (861,5623) {+song};
\node[lbl] (lNr) at (1390,5623) {\#noteRow};
\node[lbl] (lPorts) at (2433,878) {+ports};
\node[lbl] (lIc) at (2584,878) {+inputChannels};
\node[lbl] (lDev) at (2405,1419) {+device};
\end{tikzpicture}
\end{document}
